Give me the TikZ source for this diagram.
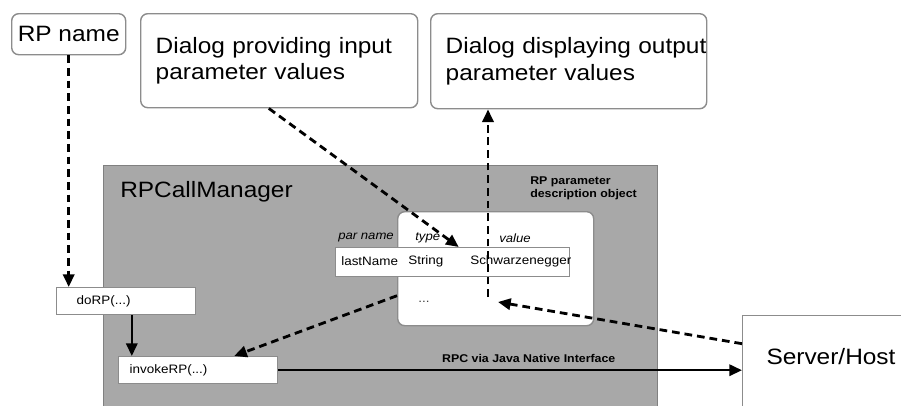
\documentclass[tikz,border=0pt]{standalone}
\usepackage{fontspec}
\setmainfont{Liberation Sans}
\newfontfamily\diagfont[FakeStretch=1.1]{Liberation Sans}
\usetikzlibrary{arrows.meta,positioning,calc}
\definecolor{boxgray}{gray}{0.55}
\definecolor{mgrgray}{gray}{0.66}
\definecolor{mgrborder}{gray}{0.5}

\begin{document}
\begin{tikzpicture}[
  x=0.25mm, y=-0.25mm,
  bigtxt/.style={font=\diagfont\fontsize{15.8}{19}\selectfont},
  smalltxt/.style={font=\diagfont\fontsize{8.7}{10}\selectfont},
  headtxt/.style={font=\diagfont\itshape\fontsize{8.5}{10}\selectfont, anchor=west, inner sep=0pt},
  box/.style={draw=boxgray, line width=1pt, fill=white, anchor=north west, inner sep=0pt},
  dialog/.style={box, rounded corners=5pt, bigtxt, align=left, inner xsep=3.75mm},
  callbox/.style={box, smalltxt, align=left, minimum height=6.75mm},
  dasharr/.style={-{Triangle[length=9pt,width=8pt]}, line width=2pt, dash pattern=on 5.5pt off 3.5pt},
  arr/.style={-{Triangle[length=9pt,width=8pt]}, line width=1.8pt},
]
  \clip (0,0) rectangle (901,406);

  % top row
  \node[box, rounded corners=5pt, bigtxt, minimum width=28.5mm, minimum height=10.25mm] (rpname) at (11,13) {RP name};
  \node[dialog, text width=61.75mm, minimum height=23.5mm] (dlgin) at (140,13) {Dialog providing input\\parameter values};
  \node[dialog, text width=61.5mm, minimum height=23.75mm] (dlgout) at (430,13) {\mbox{Dialog displaying output}\\parameter values};

  % RPCallManager
  \node[box, draw=mgrborder, fill=mgrgray, minimum width=138.5mm, minimum height=62.5mm] (mgr) at (103,165) {};
  \node[bigtxt, anchor=west, inner sep=0pt] (mgrlabel) at (120,192) {RPCallManager};
  \node[font=\diagfont\bfseries\fontsize{8}{9.3}\selectfont, align=left, anchor=north west, inner sep=0pt] (pcap) at (530,176) {RP parameter\\description object};

  % parameter object
  \node[box, rounded corners=5pt, minimum width=49mm, minimum height=28.5mm] (pobj) at (397,211) {};
  \node[box, minimum width=58.5mm, minimum height=7.25mm] (prow) at (335,247) {};
  \node[headtxt] (hname) at (338,238) {par name};
  \node[headtxt] (htype) at (415,238) {type};
  \node[headtxt] (hvalue) at (499,238) {value};
  \node[smalltxt, anchor=west, inner sep=0pt] (vname) at (341,261) {lastName};
  \node[smalltxt, anchor=west, inner sep=0pt] (vtype) at (408,261) {String};
  \node[smalltxt, anchor=west, inner sep=0pt] (vvalue) at (470,261) {Schwarzenegger};
  \node[smalltxt, text=darkgray, anchor=west, inner sep=0pt] (pdots) at (418,302) {...};
  \coordinate (inslot) at (498,302);
  \coordinate (outslot) at (488,297);

  % calls
  \node[callbox, inner xsep=5mm, text width=24.75mm] (dorp) at (56,287) {doRP(...)};
  \node[callbox, inner xsep=2.75mm, text width=34.25mm] (invoke) at (118,356) {invokeRP(...)};
  \node[box, minimum width=45mm, minimum height=27.5mm] (server) at (742,315) {};
  \node[bigtxt, inner sep=0pt] (serverlabel) at (831,357) {Server/Host};

  \draw[dasharr] (rpname.south) -- (rpname.south |- dorp.north);
  \draw[arr] ([xshift=1.4mm]dorp.south) -- ([xshift=1.4mm]dorp.south |- invoke.north);
  \draw[dasharr] ([xshift=-2.6mm]dlgin.south) -- ([xshift=1.5mm]prow.north);
  \draw[dasharr] ([yshift=-6.75mm]pobj.west) -- ([xshift=9mm]invoke.north);
  \draw[dasharr] ([yshift=6.75mm]server.west) -- (inslot);
  \draw[dasharr] (outslot) -- (outslot |- dlgout.south);
  \draw[arr] (invoke.east) -- (invoke.east -| server.west)
    node[pos=0.54, above=1pt, font=\diagfont\bfseries\fontsize{8}{9}\selectfont] (rpclabel) {RPC via Java Native Interface};
\end{tikzpicture}
\end{document}
